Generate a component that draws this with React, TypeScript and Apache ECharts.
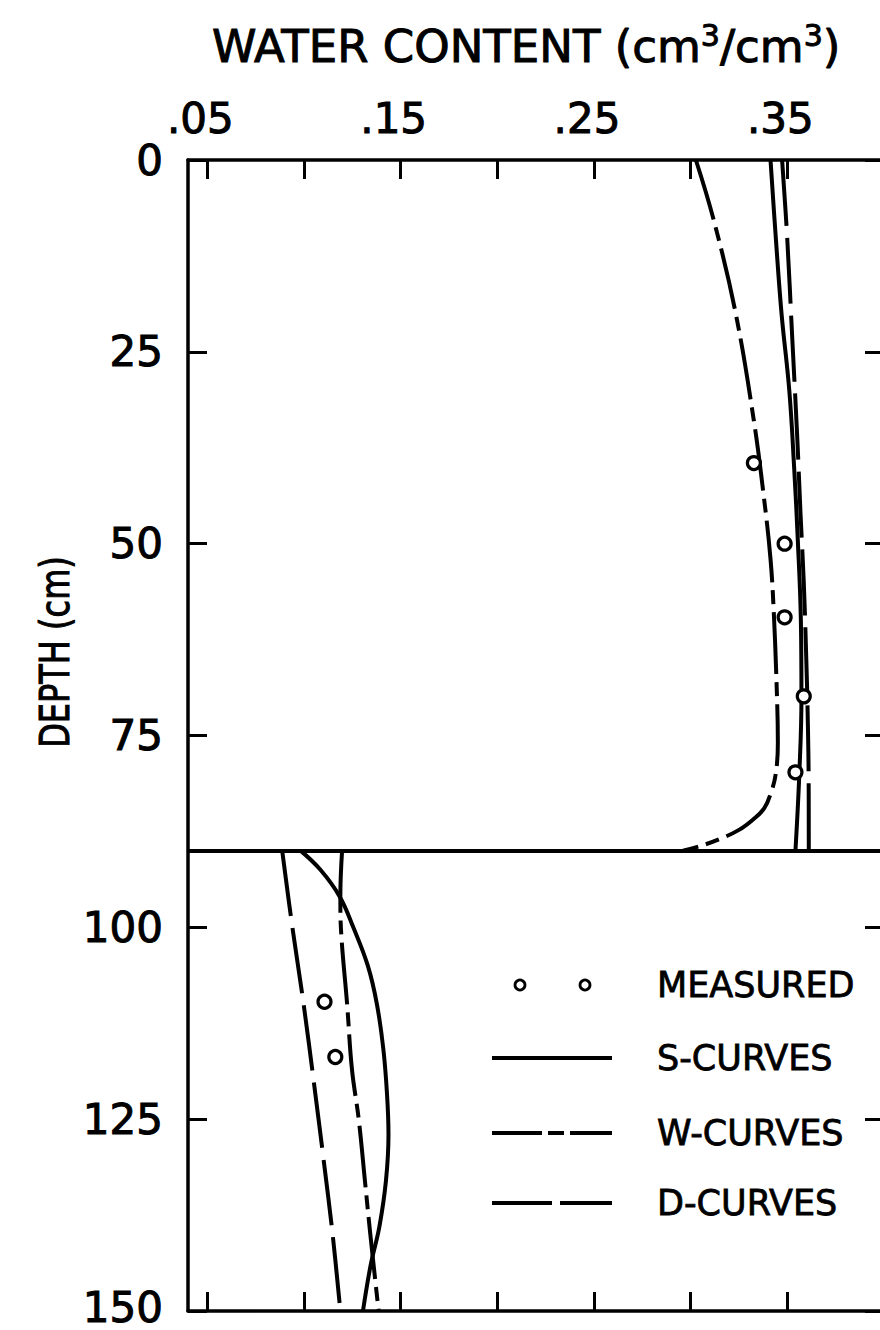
import React, { useEffect, useRef } from "react";
import * as echarts from "echarts";

// ---- data (water content cm3/cm3, depth cm) ----
const depthMin = 0;
const depthMax = 150;
const depthInterval = 25;
const xMin = 0.04;
const xMax = 0.4;
const xTickValues = [0.05, 0.1, 0.15, 0.2, 0.25, 0.3, 0.35, 0.4];
const xLabelValues = [0.05, 0.15, 0.25, 0.35];
const layerBoundary = 90;

// upper layer (0 - 90 cm)
const sUpper = [[0.3413, 0], [0.344, 10], [0.347, 20], [0.351, 30], [0.3535, 40], [0.3555, 50], [0.357, 60], [0.3573, 70], [0.3562, 80], [0.3542, 90]];
const wUpper = [[0.3027, 0], [0.3121, 8], [0.3233, 20], [0.3327, 34], [0.3379, 44], [0.3413, 52], [0.343, 59], [0.3444, 68], [0.3451, 76], [0.344, 80], [0.3415, 82.5], [0.338, 84.5], [0.332, 86], [0.325, 87.3], [0.315, 88.5], [0.305, 89.4], [0.296, 90]];
const dUpper = [[0.3473, 0], [0.3499, 10], [0.3525, 23], [0.3551, 36], [0.3568, 46], [0.3585, 55], [0.3598, 65], [0.3605, 72], [0.361, 80], [0.3611, 90]];
// lower layer (90 - 150 cm)
const sLower = [[0.0982, 90], [0.1085, 92.5], [0.1185, 96], [0.1255, 100], [0.133, 105], [0.1377, 110], [0.1411, 116], [0.143, 122], [0.1437, 127], [0.1424, 133], [0.139, 139], [0.1345, 144], [0.1305, 150]];
const wLower = [[0.1197, 90], [0.1188, 96], [0.1193, 101], [0.1223, 110], [0.1248, 118.5], [0.1283, 125], [0.1317, 133.5], [0.1343, 140], [0.1386, 150]];
const dLower = [[0.0887, 90], [0.094, 100], [0.0998, 110], [0.105, 120], [0.11, 130], [0.1148, 140], [0.1188, 150]];
// measured points
const measured = [[0.3327, 39.5], [0.3486, 50], [0.3486, 59.6], [0.3585, 69.9], [0.3542, 79.8], [0.1106, 109.7], [0.1162, 116.9]];

const legendItems = ["MEASURED", "S-CURVES", "W-CURVES", "D-CURVES"];

const FONT = "'DejaVu Sans', sans-serif";
const BLACK = "#000";
const W_DASH = [62, 8, 14, 8];
const D_DASH = [66, 12];
const bold = { textBorderColor: BLACK, textBorderWidth: 1 };

export default function App() {
  const ref = useRef<HTMLDivElement>(null);
  useEffect(() => {
    if (!ref.current) return;
    const chart = echarts.init(ref.current, null, { renderer: "svg" });
    const axisLine = { show: true, onZero: false, lineStyle: { color: BLACK, width: 3.5 } };
    const tick = (custom?: number[]) => ({
      show: true,
      inside: true,
      length: 19,
      lineStyle: { color: BLACK, width: 3 },
      ...(custom ? { customValues: custom } : {}),
    });
    const lineSeries = (name: string, data: number[][], type: any) => ({
      name,
      type: "line",
      data,
      symbol: "none",
      smooth: 0.4,
      lineStyle: { color: BLACK, width: 4, type },
      z: 3,
    });
    const legendY = [985, 1058, 1133, 1203];
    const yLabelStyle = { fontFamily: FONT, fontSize: 42, lineHeight: 34, color: BLACK, ...bold };
    const option: any = {
      animation: false,
      backgroundColor: "#fff",
      title: {
        text: "WATER CONTENT (cm{sup|3}/cm{sup|3})",
        left: 212,
        top: 20,
        padding: 0,
        textStyle: {
          fontFamily: FONT,
          fontSize: 45,
          fontWeight: "normal",
          color: BLACK,
          lineHeight: 52,
          ...bold,
          rich: {
            sup: { fontFamily: FONT, fontSize: 30, color: BLACK, verticalAlign: "top", lineHeight: 30, ...bold },
          },
        },
      },
      grid: { left: 188, top: 160, width: 696, height: 1151, containLabel: false, outerBoundsMode: "none" },
      xAxis: [
        {
          type: "value",
          position: "top",
          min: xMin,
          max: xMax,
          axisLine,
          axisTick: tick(xTickValues),
          splitLine: { show: false },
          axisLabel: {
            customValues: xLabelValues,
            formatter: (v: number) => "." + String(Math.round(v * 100)).padStart(2, "0"),
            fontFamily: FONT,
            fontSize: 42,
            color: BLACK,
            margin: 21,
            padding: [0, 14, 0, 0],
            ...bold,
          },
        },
        {
          type: "value",
          position: "bottom",
          min: xMin,
          max: xMax,
          axisLine,
          axisTick: tick(xTickValues),
          splitLine: { show: false },
          axisLabel: { show: false },
        },
      ],
      yAxis: [
        {
          type: "value",
          position: "left",
          inverse: true,
          min: depthMin,
          max: depthMax,
          interval: depthInterval,
          axisLine,
          axisTick: tick(),
          splitLine: { show: false },
          axisLabel: {
            ...yLabelStyle,
            margin: 25,
            formatter: (v: number) => (v === depthMax ? "{last|" + v + "}" : String(v)),
            rich: { last: { ...yLabelStyle, padding: [0, 0, 8, 0] } },
          },
        },
        {
          type: "value",
          position: "right",
          inverse: true,
          min: depthMin,
          max: depthMax,
          interval: depthInterval,
          axisLine,
          axisTick: tick(),
          splitLine: { show: false },
          axisLabel: { show: false },
        },
      ],
      series: [
        {
          ...lineSeries("S-CURVES", sUpper, "solid"),
          markLine: {
            silent: true,
            symbol: ["none", "none"],
            label: { show: false },
            lineStyle: { color: BLACK, width: 4, type: "solid" },
            data: [{ yAxis: layerBoundary }],
          },
        },
        lineSeries("S-CURVES", sLower, "solid"),
        lineSeries("W-CURVES", wUpper, W_DASH),
        lineSeries("W-CURVES", wLower, W_DASH),
        lineSeries("D-CURVES", dUpper, D_DASH),
        lineSeries("D-CURVES", dLower, D_DASH),
        {
          name: "MEASURED",
          type: "scatter",
          data: measured,
          symbol: "circle",
          symbolSize: 13,
          itemStyle: { color: "#fff", borderColor: BLACK, borderWidth: 3.2, opacity: 1 },
          z: 5,
        },
      ],
      graphic: [
        {
          type: "text",
          x: 55,
          y: 652,
          rotation: Math.PI / 2,
          scaleX: 0.8,
          style: {
            text: "DEPTH (cm)",
            align: "center",
            verticalAlign: "middle",
            fontFamily: FONT,
            fontSize: 40,
            fill: BLACK,
            stroke: BLACK,
            lineWidth: 1,
          },
        },
        { type: "circle", shape: { cx: 520, cy: legendY[0], r: 5 }, style: { fill: "#fff", stroke: BLACK, lineWidth: 2.8 } },
        { type: "circle", shape: { cx: 585, cy: legendY[0], r: 5 }, style: { fill: "#fff", stroke: BLACK, lineWidth: 2.8 } },
        { type: "line", shape: { x1: 492, y1: legendY[1], x2: 612, y2: legendY[1] }, style: { stroke: BLACK, lineWidth: 4 } },
        { type: "line", shape: { x1: 492, y1: legendY[2], x2: 612, y2: legendY[2] }, style: { stroke: BLACK, lineWidth: 4, lineDash: [50, 6, 16, 6] } },
        { type: "line", shape: { x1: 492, y1: legendY[3], x2: 612, y2: legendY[3] }, style: { stroke: BLACK, lineWidth: 4, lineDash: [60, 8] } },
        ...legendItems.map((t, i) => ({
          type: "text",
          x: 657,
          y: legendY[i],
          style: {
            text: t,
            align: "left",
            verticalAlign: "middle",
            fontFamily: FONT,
            fontSize: 35,
            fill: BLACK,
            stroke: BLACK,
            lineWidth: 0.8,
          },
        })),
      ],
    };
    chart.setOption(option);
    return () => chart.dispose();
  }, []);
  return (
    <div style={{ position: "absolute", left: 0, top: 0, width: 880, height: 1330, overflow: "hidden", background: "#fff" }}>
      <div ref={ref} style={{ width: 900, height: 1330 }} />
    </div>
  );
}
